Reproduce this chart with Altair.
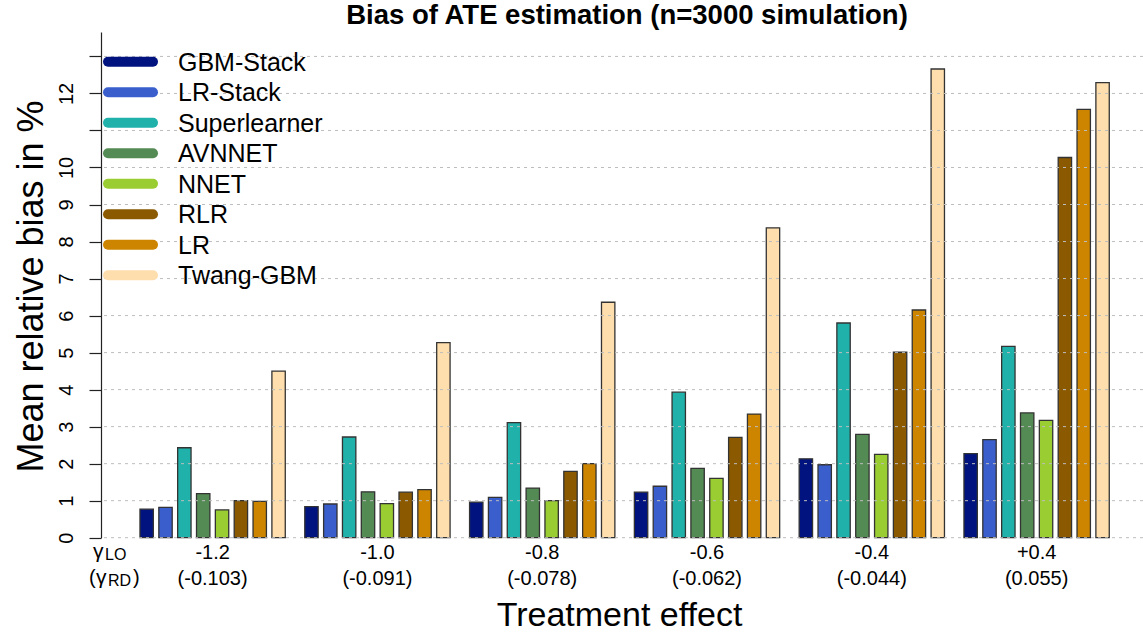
import altair as alt
import pandas as pd

FONT = "Liberation Sans"

groups_lo = ["-1.2", "-1.0", "-0.8", "-0.6", "-0.4", "+0.4"]
groups_rd = ["(-0.103)", "(-0.091)", "(-0.078)", "(-0.062)", "(-0.044)", "(0.055)"]
methods = ["GBM-Stack", "LR-Stack", "Superlearner", "AVNNET", "NNET", "RLR", "LR", "Twang-GBM"]
colors = ["#00137f", "#3a5fcd", "#20b2aa", "#548b54", "#9acd32", "#8b5a00", "#cd8500", "#ffdead"]

gbm_stack = [0.77, 0.84, 0.96, 1.23, 2.13, 2.27]
lr_stack = [0.82, 0.91, 1.09, 1.39, 1.97, 2.65]
superlearner = [2.43, 2.72, 3.11, 3.93, 5.80, 5.17]
avnnet = [1.19, 1.24, 1.34, 1.87, 2.79, 3.37]
nnet = [0.75, 0.92, 1.00, 1.60, 2.25, 3.17]
rlr = [1.00, 1.23, 1.79, 2.71, 5.01, 10.27]
lr = [0.98, 1.30, 2.00, 3.34, 6.15, 11.57]
twang = [4.50, 5.27, 6.36, 8.37, 12.66, 12.29]

y_ticks = list(range(14))
Y_DOMAIN = [0, 13.66]

series = [gbm_stack, lr_stack, superlearner, avnnet, nnet, rlr, lr, twang]
group_order = [lo + "|" + rd for lo, rd in zip(groups_lo, groups_rd)]
rows = []
for m, vals in zip(methods, series):
    for g, v in zip(group_order, vals):
        rows.append({"group": g, "method": m, "value": v})
df = pd.DataFrame(rows)

color_scale = alt.Scale(domain=methods, range=colors)

bars = alt.Chart(df).mark_bar(stroke="#333333", strokeWidth=1.3).encode(
    x=alt.X(
        "group:N", sort=group_order,
        scale=alt.Scale(paddingInner=0.1183, paddingOuter=0.2206, align=0.536),
        axis=alt.Axis(
            title="Treatment effect", labelExpr="split(datum.label, '|')",
            labelAngle=0, labelFontSize=20, labelPadding=4.5, labelLineHeight=26,
            labelColor="black", labelFont=FONT,
            domain=False, ticks=False, grid=False,
            titleFontSize=34, titleFontWeight="normal", titleFont=FONT, titleColor="black",
            titleX=518, titleY=87.3, titleBaseline="alphabetic", titleAlign="center",
        ),
    ),
    xOffset=alt.XOffset("method:N", sort=methods,
                        scale=alt.Scale(paddingInner=0.29, paddingOuter=0)),
    y=alt.Y(
        "value:Q", scale=alt.Scale(domain=Y_DOMAIN, nice=False),
        axis=alt.Axis(
            title="Mean relative bias in %", values=y_ticks,
            labelExpr="datum.value == 11 || datum.value == 13 ? '' : datum.label",
            labelAngle=270, labelAlign="center", labelBaseline="alphabetic",
            labelFontSize=20, labelPadding=17, labelFont=FONT, labelColor="black",
            labelOverlap=False,
            tickSize=12, tickColor="#222222", tickWidth=1.2,
            domainColor="#222222", domainWidth=1.2,
            grid=False,
            titleFontSize=36, titleFontWeight="normal", titleFont=FONT, titleColor="black",
            titleAngle=270, titleX=-59, titleY=254, titleAlign="center",
            titleBaseline="alphabetic",
        ),
    ),
    color=alt.Color("method:N", scale=color_scale, legend=None),
)

grid = alt.Chart(pd.DataFrame({"v": y_ticks})).mark_rule(
    color="#bdbdbd", strokeWidth=1, strokeDash=[3, 4]
).encode(y=alt.Y("v:Q", scale=alt.Scale(domain=Y_DOMAIN, nice=False), axis=None))

leg_df = pd.DataFrame({"method": methods})
leg_y = alt.Y("method:N", sort=methods,
              scale=alt.Scale(type="point", domain=methods, range=[29.7, 243.3], padding=0),
              axis=None)
leg_lines = alt.Chart(leg_df).mark_rule(strokeWidth=10, strokeCap="round").encode(
    x=alt.value(7), x2=alt.value(52), y=leg_y,
    color=alt.Color("method:N", scale=color_scale, legend=None),
)
leg_text = alt.Chart(leg_df).mark_text(
    align="left", baseline="alphabetic", fontSize=25, font=FONT, color="black", dy=9
).encode(x=alt.value(77), y=leg_y, text="method:N")


def note(txt, x, y, size):
    return alt.Chart(pd.DataFrame({"t": [txt]})).mark_text(
        align="left", baseline="alphabetic", fontSize=size, font=FONT, color="black"
    ).encode(x=alt.value(x), y=alt.value(y), text="t:N")


notes = [
    note("γ", -8, 526, 21),
    note("LO", 4, 528, 16),
    note("(", -12, 552, 20),
    note("γ", -5, 552, 21),
    note("RD", 7, 554, 16),
    note(")", 32, 552, 20),
]

chart = alt.layer(bars, grid, leg_lines, leg_text, *notes).resolve_scale(
    y="independent"
).properties(
    width=1042, height=505.7,
    autosize=alt.AutoSizeParams(type="none"),
    padding={"left": 101, "top": 32, "right": 0, "bottom": 97.3},
    title=alt.TitleParams(
        "Bias of ATE estimation (n=3000 simulation)", fontSize=27.5, fontWeight="bold",
        font=FONT, anchor="middle", frame="group", offset=3, color="black", dx=5,
    ),
    background="white",
).configure_view(stroke=None)

chart.save("out.html", embed_options={"renderer": "svg", "actions": False})
